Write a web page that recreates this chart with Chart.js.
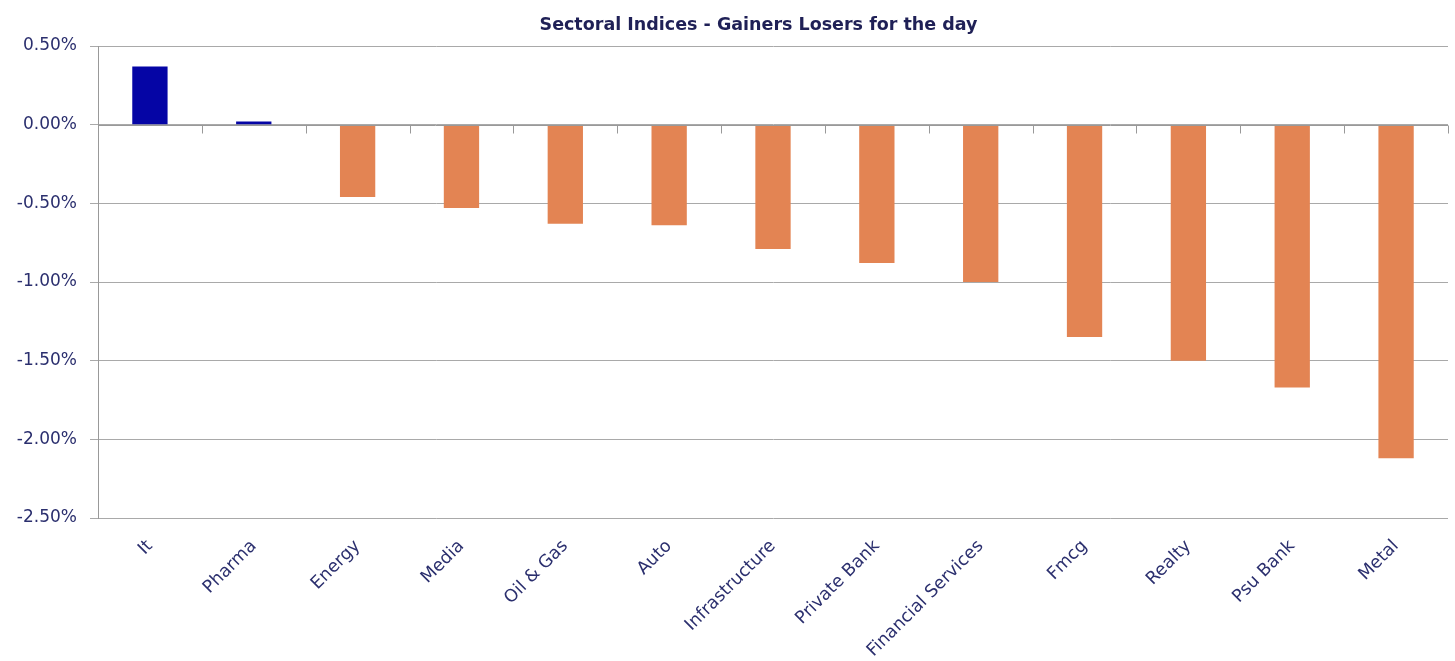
<!DOCTYPE html>
<html>
<head>
<meta charset="utf-8">
<script src="https://cdn.jsdelivr.net/npm/chart.js@4"></script>
<style>
  html, body { margin: 0; padding: 0; background: #fff; }
  #wrap { width: 1455px; height: 661px; }
</style>
</head>
<body>
<div id="wrap"><canvas id="sectorChart"></canvas></div>
<script>
const sectors = ["It", "Pharma", "Energy", "Media", "Oil & Gas", "Auto", "Infrastructure",
  "Private Bank", "Financial Services", "Fmcg", "Realty", "Psu Bank", "Metal"];
const changePct = [0.37, 0.02, -0.46, -0.53, -0.63, -0.64, -0.79, -0.88, -1.00, -1.35, -1.50, -1.67, -2.12];
const yTicks = [0.5, 0, -0.5, -1, -1.5, -2, -2.5];
const chartTitle = "Sectoral Indices - Gainers Losers for the day";

const GAIN = "#0505a5";
const LOSS = "#e38453";
const GRID = "#a9a9a9";
const TEXT = "#2b2f6e";
const FONT = "'DejaVu Sans', sans-serif";

// title sits a bit right of the canvas centre, like the original
const titlePlugin = {
  id: "offTitle",
  afterDraw(chart) {
    const c = chart.ctx;
    c.save();
    c.font = "bold 17.5px " + FONT;
    c.fillStyle = "#1f2056";
    c.textAlign = "center";
    c.textBaseline = "middle";
    c.fillText(chartTitle, chart.width / 2 + 31, 25);
    c.restore();
  }
};

// little tick marks on the zero line between categories
const zeroTicks = {
  id: "zeroTicks",
  afterDatasetsDraw(chart) {
    const x = chart.scales.x, y = chart.scales.y;
    const y0 = Math.round(y.getPixelForValue(0)) + 0.5;
    const half = (x.getPixelForValue(1) - x.getPixelForValue(0)) / 2;
    const c = chart.ctx;
    c.save();
    c.strokeStyle = "#999999";
    c.lineWidth = 1;
    c.beginPath();
    c.moveTo(chart.chartArea.left, y0);
    c.lineTo(chart.chartArea.right, y0);
    for (let i = 0; i < sectors.length; i++) {
      const px = Math.round(x.getPixelForValue(i) + half) + 0.5;
      c.moveTo(px, y0);
      c.lineTo(px, y0 + 8);
    }
    c.stroke();
    c.restore();
  }
};

window.addEventListener("DOMContentLoaded", () => {
  const ctx = document.getElementById("sectorChart").getContext("2d");

  new Chart(ctx, {
    type: "bar",
    data: {
      labels: sectors,
      datasets: [
        {
          label: "Change",
          data: changePct,
          backgroundColor: changePct.map((v) => (v >= 0 ? GAIN : LOSS)),
          categoryPercentage: 1,
          barPercentage: 0.34,
        },
      ],
    },
    options: {
      responsive: true,
      maintainAspectRatio: false,
      animation: false,
      layout: { padding: { left: 6, right: 7, top: 46, bottom: 0 } },
      plugins: {
        legend: { display: false },
        tooltip: { enabled: false },
        title: { display: false },
      },
      scales: {
        x: {
          grid: { display: false },
          border: { display: false },
          ticks: {
            color: TEXT,
            font: { family: FONT, size: 17.5 },
            maxRotation: 45,
            minRotation: 45,
            padding: 10,
            autoSkip: false,
          },
          afterFit: (s) => { s.height = 143; },
        },
        y: {
          min: -2.5,
          max: 0.5,
          afterBuildTicks: (s) => { s.ticks = yTicks.map((v) => ({ value: v })); },
          grid: { color: GRID, lineWidth: 1, tickLength: 8 },
          border: { display: true, color: "#999999" },
          ticks: {
            color: TEXT,
            font: { family: FONT, size: 17 },
            padding: 13,
            callback: (v) => v.toFixed(2) + "%",
          },
          afterFit: (s) => { s.width = 92; },
        },
      },
    },
    plugins: [zeroTicks, titlePlugin],
  });
});
</script>
</body>
</html>
